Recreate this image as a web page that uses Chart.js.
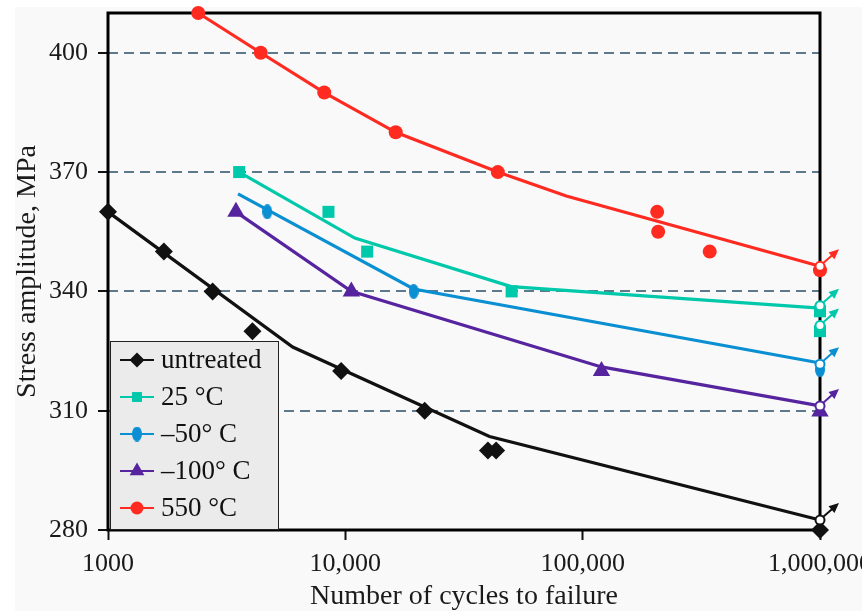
<!DOCTYPE html>
<html>
<head>
<meta charset="utf-8">
<script src="https://cdn.jsdelivr.net/npm/chart.js@4.4.1/dist/chart.umd.min.js"></script>
<style>
  html, body { margin: 0; padding: 0; background: #fff; }
  #chart { display: block; }
</style>
</head>
<body>
<canvas id="chart" width="862" height="611"></canvas>
<script>
// number of cycles to failure (N) and stress amplitude (MPa)
const untreatedN = [1000, 1720, 2760, 4060, 9600, 21600, 39900, 43200, 1000000];
const untreatedS = [360, 350, 340, 330, 320, 310, 300, 300, 280];
const untreatedFitN = [1000, 6000, 40500, 1000000];
const untreatedFitS = [360, 326, 303.5, 282.5];
const untreatedRunoutS = [282.5];

const c25N = [3570, 8490, 12360, 50200, 1000000, 1000000];
const c25S = [370, 360, 350, 340, 335, 330];
const c25FitN = [3570, 10960, 50000, 1000000];
const c25FitS = [370, 353.4, 341.2, 335.8];
const c25RunoutS = [336.4, 331.4];

const m50N = [4690, 19400, 1000000];
const m50S = [360, 340, 320.3];
const m50FitN = [3530, 19400, 1000000];
const m50FitS = [364.5, 340.6, 322];
const m50RunoutS = [321.7];

const m100N = [3460, 10600, 120000, 1000000];
const m100S = [360, 340, 320, 309.8];
const m100FitN = [3460, 10600, 120000, 1000000];
const m100FitS = [360, 340, 321, 311.2];
const m100RunoutS = [311.2];

const c550N = [2400, 4400, 8150, 16300, 43900, 206000, 208000, 343000, 1000000];
const c550S = [410, 400, 390, 380, 370, 360, 355, 350, 345.3];
const c550FitN = [2400, 4400, 8150, 16300, 43900, 85300, 1000000];
const c550FitS = [410, 400, 390, 380, 370, 364, 346.3];
const c550RunoutS = [346.3];

const runoutN = 1000000;

const seriesLabels = ['untreated', '25 \u00b0C', '\u201350\u00b0 C', '\u2013100\u00b0 C', '550 \u00b0C'];
const xTicks = [1000, 10000, 100000, 1000000];
const xTickLabels = ['1000', '10,000', '100,000', '1,000,000'];
const yTicks = [280, 310, 340, 370, 400];

const serif = 'Liberation Serif';

function pts(xs, ys) {
    return xs.map((x, i) => ({x: x, y: ys[i]}));
}

// vertical ellipse marker for the -50 series
function ellipseMarker(color, w, h) {
    let c = document.createElement('canvas');
    c.width = w;
    c.height = h;
    let g = c.getContext('2d');
    g.fillStyle = color;
    g.beginPath();
    g.ellipse(w / 2, h / 2, w / 2, h / 2, 0, 0, Math.PI * 2);
    g.fill();
    return c;
}

const series = [
    {label: seriesLabels[0], color: '#111111', style: 'rectRot', radius: 9, legendRadius: 7.5,
     n: untreatedN, s: untreatedS, fitN: untreatedFitN, fitS: untreatedFitS, runout: untreatedRunoutS},
    {label: seriesLabels[1], color: '#00c8aa', style: 'rect', radius: 8.5, legendRadius: 7,
     n: c25N, s: c25S, fitN: c25FitN, fitS: c25FitS, runout: c25RunoutS},
    {label: seriesLabels[2], color: '#0a8fd2', style: ellipseMarker('#0a8fd2', 10, 15), radius: 7, legendRadius: 7,
     n: m50N, s: m50S, fitN: m50FitN, fitS: m50FitS, runout: m50RunoutS},
    {label: seriesLabels[3], color: '#55249e', style: 'triangle', radius: 10, legendRadius: 8.5,
     n: m100N, s: m100S, fitN: m100FitN, fitS: m100FitS, runout: m100RunoutS},
    {label: seriesLabels[4], color: '#ff2a20', style: 'circle', radius: 7, legendRadius: 6.5,
     n: c550N, s: c550S, fitN: c550FitN, fitS: c550FitS, runout: c550RunoutS}
];

// first index is drawn on top: runout circles, then markers, then fitted lines
const datasets = [];
series.forEach(sr => {
    datasets.push({
        kind: 'runout',
        data: sr.runout.map(v => ({x: runoutN, y: v})),
        pointStyle: 'circle',
        pointRadius: 4.5,
        pointBackgroundColor: '#ffffff',
        pointBorderColor: sr.color,
        pointBorderWidth: 2,
        borderColor: sr.color,
        showLine: false,
        clip: false
    });
});
series.forEach(sr => {
    datasets.push({
        kind: 'marker',
        label: sr.label,
        legendRadius: sr.legendRadius,
        data: pts(sr.n, sr.s),
        pointStyle: sr.style,
        pointRadius: sr.radius,
        pointBackgroundColor: sr.color,
        pointBorderColor: sr.color,
        pointBorderWidth: 0,
        borderColor: sr.color,
        backgroundColor: sr.color,
        showLine: false,
        clip: false
    });
});
series.forEach(sr => {
    datasets.push({
        kind: 'fit',
        data: pts(sr.fitN, sr.fitS),
        borderColor: sr.color,
        borderWidth: 3.2,
        pointRadius: 0,
        showLine: true,
        tension: 0,
        clip: false
    });
});

const backgroundPlugin = {
    id: 'bg',
    beforeDraw(chart) {
        let ctx = chart.ctx;
        ctx.save();
        ctx.fillStyle = '#ffffff';
        ctx.fillRect(0, 0, chart.width, chart.height);
        ctx.fillStyle = '#f9f9f9';
        ctx.fillRect(15, 7, chart.width - 15, chart.height - 7);
        ctx.restore();
    }
};

const framePlugin = {
    id: 'frame',
    beforeDatasetsDraw(chart) {
        let a = chart.chartArea;
        let ctx = chart.ctx;
        ctx.save();
        ctx.strokeStyle = '#000';
        ctx.lineWidth = 3;
        ctx.strokeRect(a.left, a.top, a.right - a.left, a.bottom - a.top);
        ctx.restore();
    }
};

// run-out arrows pointing up and right from the open circles
const arrowPlugin = {
    id: 'arrows',
    afterDatasetsDraw(chart) {
        let ctx = chart.ctx;
        ctx.save();
        chart.data.datasets.forEach((ds, i) => {
            if (ds.kind !== 'runout') return;
            chart.getDatasetMeta(i).data.forEach(pt => {
                let x0 = pt.x + 3, y0 = pt.y - 3;
                let x1 = pt.x + 19, y1 = pt.y - 17;
                let ang = Math.atan2(y1 - y0, x1 - x0);
                ctx.strokeStyle = ds.borderColor;
                ctx.fillStyle = ds.borderColor;
                ctx.lineWidth = 2;
                ctx.beginPath();
                ctx.moveTo(x0, y0);
                ctx.lineTo(x1 - 6 * Math.cos(ang), y1 - 6 * Math.sin(ang));
                ctx.stroke();
                ctx.beginPath();
                ctx.moveTo(x1, y1);
                ctx.lineTo(x1 - 10 * Math.cos(ang) + 4.5 * Math.sin(ang), y1 - 10 * Math.sin(ang) - 4.5 * Math.cos(ang));
                ctx.lineTo(x1 - 10 * Math.cos(ang) - 4.5 * Math.sin(ang), y1 - 10 * Math.sin(ang) + 4.5 * Math.cos(ang));
                ctx.closePath();
                ctx.fill();
            });
        });
        ctx.restore();
    }
};

// legend box in the lower left corner of the plot
const legendPlugin = {
    id: 'boxLegend',
    afterDatasetsDraw(chart) {
        let a = chart.chartArea;
        let ctx = chart.ctx;
        let left = a.left + 2, top = a.bottom - 189, w = 168, h = 188;
        ctx.save();
        ctx.fillStyle = '#ebebeb';
        ctx.fillRect(left, top, w, h);
        ctx.strokeStyle = '#222';
        ctx.lineWidth = 1;
        ctx.strokeRect(left + 0.5, top + 0.5, w, h);
        let markers = chart.data.datasets.filter(ds => ds.kind === 'marker');
        markers.forEach((ds, i) => {
            let y = top + 19 + i * 37;
            let cx = left + 27;
            ctx.strokeStyle = ds.borderColor;
            ctx.lineWidth = 2;
            ctx.beginPath();
            ctx.moveTo(cx - 17, y);
            ctx.lineTo(cx + 17, y);
            ctx.stroke();
            ctx.fillStyle = ds.backgroundColor;
            Chart.helpers.drawPoint(ctx, {
                pointStyle: ds.pointStyle,
                radius: ds.legendRadius,
                rotation: 0,
                borderWidth: 0
            }, cx, y);
            ctx.fillStyle = '#111';
            ctx.font = '27px "' + serif + '"';
            ctx.textBaseline = 'middle';
            ctx.textAlign = 'left';
            ctx.fillText(ds.label, left + 51, y + 1);
        });
        ctx.restore();
    }
};

new Chart(document.getElementById('chart'), {
    type: 'scatter',
    data: {datasets: datasets},
    options: {
        responsive: false,
        animation: false,
        devicePixelRatio: 1,
        layout: {padding: {top: 13, right: 42, left: 0, bottom: 0}},
        plugins: {
            legend: {display: false},
            tooltip: {enabled: false}
        },
        scales: {
            x: {
                type: 'logarithmic',
                min: 1000,
                max: 1000000,
                afterBuildTicks: scale => { scale.ticks = xTicks.map(v => ({value: v})); },
                afterFit: scale => {
                    scale.height = 81;
                    scale.paddingLeft = 0;
                    scale.paddingRight = 0;
                },
                ticks: {
                    callback: (v, i) => xTickLabels[i],
                    autoSkip: false,
                    maxRotation: 0,
                    padding: 9,
                    color: '#1a1a1a',
                    font: {family: serif, size: 26}
                },
                grid: {
                    drawOnChartArea: false,
                    drawTicks: true,
                    tickLength: 10,
                    tickColor: '#111',
                    tickWidth: 2
                },
                border: {display: false},
                title: {
                    display: true,
                    text: 'Number of cycles to failure',
                    color: '#1a1a1a',
                    padding: {top: 0, bottom: 0},
                    font: {family: serif, size: 28, lineHeight: 1}
                }
            },
            y: {
                min: 280,
                max: 410,
                afterBuildTicks: scale => { scale.ticks = yTicks.map(v => ({value: v})); },
                afterFit: scale => {
                    scale.width = 108;
                    scale.paddingTop = 0;
                    scale.paddingBottom = 0;
                },
                ticks: {
                    padding: 10,
                    color: '#1a1a1a',
                    font: {family: serif, size: 26}
                },
                grid: {
                    color: c => c.tick && c.tick.value === 280 ? 'rgba(0,0,0,0)' : '#5d7a8c',
                    lineWidth: 2,
                    drawTicks: true,
                    tickLength: 10,
                    tickColor: '#111',
                    tickWidth: 2,
                    tickBorderDash: []
                },
                border: {display: false, dash: [10, 6]},
                title: {
                    display: true,
                    text: 'Stress amplitude, MPa',
                    color: '#1a1a1a',
                    padding: {top: 14, bottom: 0},
                    font: {family: serif, size: 28, lineHeight: 1}
                }
            }
        }
    },
    plugins: [backgroundPlugin, framePlugin, arrowPlugin, legendPlugin]
});
</script>
</body>
</html>
